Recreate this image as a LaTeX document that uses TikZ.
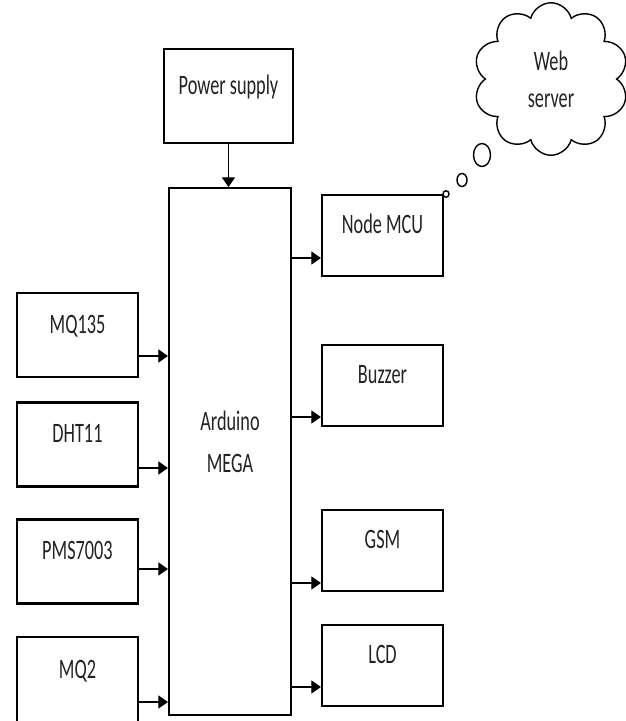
\documentclass[tikz,border=0pt]{standalone}
\usepackage{fontspec}
\setmainfont{Carlito}[FakeStretch=0.65]
\usepackage{tikz}
\usetikzlibrary{shapes.geometric, shapes.symbols, arrows.meta, positioning}
\definecolor{inkgray}{HTML}{222222}
\tikzset{
  block/.style={
    rectangle, draw=black, line width=1.2pt,
    minimum width=2.42cm, minimum height=1.68cm, inner sep=0pt,
    text=inkgray, font=\fontsize{16}{19}\selectfont,
    text height=10pt, text depth=12pt,
  },
  outblock/.style={block, minimum height=1.62cm},
  arrow/.style={-{Triangle[length=5.5pt, width=7.5pt]}, line width=0.6pt, color=black},
  bubble/.style={ellipse, draw=black, line width=0.8pt, inner sep=0pt},
}
\begin{document}
\begin{tikzpicture}[x=0.02cm, y=-0.02cm]
  \useasboundingbox (0,0) rectangle (626,721);

  \node[block, minimum width=2.58cm, minimum height=1.88cm] (power) at (228.5,96) {Power supply};
  \node[block, minimum width=2.44cm, minimum height=10.54cm] (mega) at (230,451.5) {};
  \node[align=center, text=inkgray, font=\fontsize{16}{24}\selectfont] (megatext) at ([yshift=0.2cm]mega.center) {Arduino\\MEGA};

  % sensors
  \node[block] (mq135) at (77.5,335) {MQ135};
  \node[block] (dht11) at (77.5,444.5) {DHT11};
  \node[block] (pms) at (77.5,561.5) {PMS7003};
  \node[block, minimum height=1.72cm] (mq2) at (77.5,680) {MQ2};

  % outputs
  \node[outblock] (nodemcu) at (382.5,235.5) {Node MCU};
  \node[outblock] (buzzer) at (382.5,385.5) {Buzzer};
  \node[outblock] (gsm) at (382.5,550.5) {GSM};
  \node[outblock] (lcd) at (382.5,665.5) {LCD};

  % web server cloud
  \node[cloud, cloud puffs=10, aspect=1, draw=black, line width=0.8pt,
        minimum width=3.1cm, minimum height=3.05cm, inner sep=0pt,
        align=center, text=inkgray, font=\fontsize{16}{21}\selectfont] (web) at (551,79) {Web\\server};
  \node[bubble, minimum width=0.34cm, minimum height=0.46cm] (big) at (482,155) {};
  \node[bubble, minimum width=0.2cm, minimum height=0.26cm] (mid) at (462,180) {};
  \node[bubble, minimum width=0.12cm, minimum height=0.13cm] (tiny) at (446,194) {};

  \draw[arrow] (power.south) -- (power.south |- mega.north);
  \draw[arrow] ([yshift=-0.42cm]mq135.east) -- ([yshift=-0.42cm]mq135.east -| mega.west);
  \draw[arrow] ([yshift=-0.47cm]dht11.east) -- ([yshift=-0.47cm]dht11.east -| mega.west);
  \draw[arrow] ([yshift=-0.15cm]pms.east) -- ([yshift=-0.15cm]pms.east -| mega.west);
  \draw[arrow] ([yshift=-0.44cm]mq2.east) -- ([yshift=-0.44cm]mq2.east -| mega.west);
  \draw[arrow] ([yshift=-0.45cm]nodemcu.west -| mega.east) -- ([yshift=-0.45cm]nodemcu.west);
  \draw[arrow] ([yshift=-0.63cm]buzzer.west -| mega.east) -- ([yshift=-0.63cm]buzzer.west);
  \draw[arrow] ([yshift=-0.65cm]gsm.west -| mega.east) -- ([yshift=-0.65cm]gsm.west);
  \draw[arrow] ([yshift=-0.43cm]lcd.west -| mega.east) -- ([yshift=-0.43cm]lcd.west);

\end{tikzpicture}
\end{document}
